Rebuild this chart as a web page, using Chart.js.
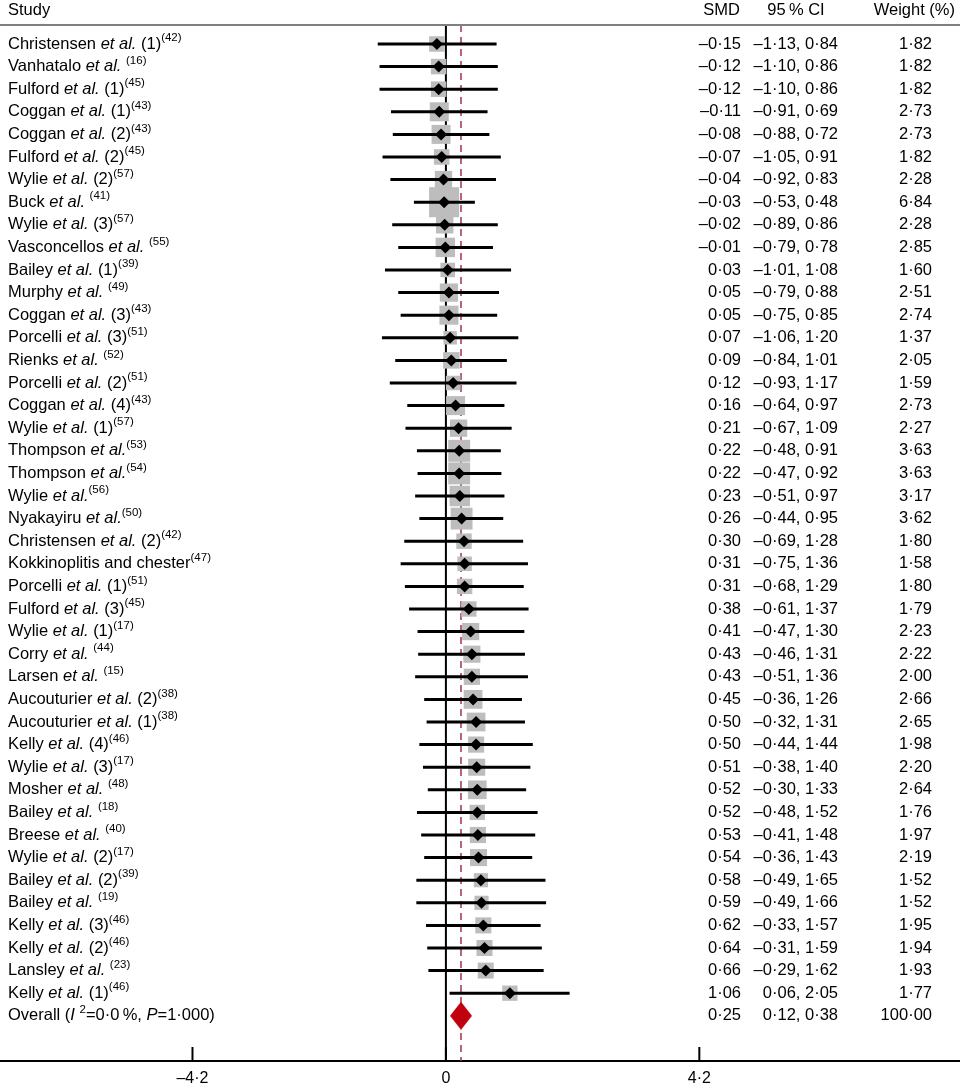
<!DOCTYPE html>
<html>
<head>
<meta charset="utf-8">
<script src="https://cdn.jsdelivr.net/npm/chart.js"></script>
<style>
body { margin: 0; background: #fff; }
#wrap { position: relative; width: 960px; height: 1086px; }
</style>
</head>
<body>
<div id="wrap"><canvas id="forestChart"></canvas></div>
<script>
// study labels: |...| = italic, ^...^ = superscript
var studies = [
    'Christensen |et al.| (1)^(42)^', 'Vanhatalo |et al.| ^(16)^', 'Fulford |et al.| (1)^(45)^',
    'Coggan |et al.| (1)^(43)^', 'Coggan |et al.| (2)^(43)^', 'Fulford |et al.| (2)^(45)^',
    'Wylie |et al.| (2)^(57)^', 'Buck |et al.| ^(41)^', 'Wylie |et al.| (3)^(57)^',
    'Vasconcellos |et al.| ^(55)^', 'Bailey |et al.| (1)^(39)^', 'Murphy |et al.| ^(49)^',
    'Coggan |et al.| (3)^(43)^', 'Porcelli |et al.| (3)^(51)^', 'Rienks |et al.| ^(52)^',
    'Porcelli |et al.| (2)^(51)^', 'Coggan |et al.| (4)^(43)^', 'Wylie |et al.| (1)^(57)^',
    'Thompson |et al.|^(53)^', 'Thompson |et al.|^(54)^', 'Wylie |et al.|^(56)^',
    'Nyakayiru |et al.|^(50)^', 'Christensen |et al.| (2)^(42)^', 'Kokkinoplitis and chester^(47)^',
    'Porcelli |et al.| (1)^(51)^', 'Fulford |et al.| (3)^(45)^', 'Wylie |et al.| (1)^(17)^',
    'Corry |et al.| ^(44)^', 'Larsen |et al.| ^(15)^', 'Aucouturier |et al.| (2)^(38)^',
    'Aucouturier |et al.| (1)^(38)^', 'Kelly |et al.| (4)^(46)^', 'Wylie |et al.| (3)^(17)^',
    'Mosher |et al.| ^(48)^', 'Bailey |et al.| ^(18)^', 'Breese |et al.| ^(40)^',
    'Wylie |et al.| (2)^(17)^', 'Bailey |et al.| (2)^(39)^', 'Bailey |et al.| ^(19)^',
    'Kelly |et al.| (3)^(46)^', 'Kelly |et al.| (2)^(46)^', 'Lansley |et al.| ^(23)^',
    'Kelly |et al.| (1)^(46)^'
];
var smd = [-0.15, -0.12, -0.12, -0.11, -0.08, -0.07, -0.04, -0.03, -0.02, -0.01,
    0.03, 0.05, 0.05, 0.07, 0.09, 0.12, 0.16, 0.21, 0.22, 0.22,
    0.23, 0.26, 0.30, 0.31, 0.31, 0.38, 0.41, 0.43, 0.43, 0.45,
    0.50, 0.50, 0.51, 0.52, 0.52, 0.53, 0.54, 0.58, 0.59, 0.62,
    0.64, 0.66, 1.06];
var ciLow = [-1.13, -1.10, -1.10, -0.91, -0.88, -1.05, -0.92, -0.53, -0.89, -0.79,
    -1.01, -0.79, -0.75, -1.06, -0.84, -0.93, -0.64, -0.67, -0.48, -0.47,
    -0.51, -0.44, -0.69, -0.75, -0.68, -0.61, -0.47, -0.46, -0.51, -0.36,
    -0.32, -0.44, -0.38, -0.30, -0.48, -0.41, -0.36, -0.49, -0.49, -0.33,
    -0.31, -0.29, 0.06];
var ciHigh = [0.84, 0.86, 0.86, 0.69, 0.72, 0.91, 0.83, 0.48, 0.86, 0.78,
    1.08, 0.88, 0.85, 1.20, 1.01, 1.17, 0.97, 1.09, 0.91, 0.92,
    0.97, 0.95, 1.28, 1.36, 1.29, 1.37, 1.30, 1.31, 1.36, 1.26,
    1.31, 1.44, 1.40, 1.33, 1.52, 1.48, 1.43, 1.65, 1.66, 1.57,
    1.59, 1.62, 2.05];
var weights = [1.82, 1.82, 1.82, 2.73, 2.73, 1.82, 2.28, 6.84, 2.28, 2.85,
    1.60, 2.51, 2.74, 1.37, 2.05, 1.59, 2.73, 2.27, 3.63, 3.63,
    3.17, 3.62, 1.80, 1.58, 1.80, 1.79, 2.23, 2.22, 2.00, 2.66,
    2.65, 1.98, 2.20, 2.64, 1.76, 1.97, 2.19, 1.52, 1.52, 1.95,
    1.94, 1.93, 1.77];

var overallLabel = 'Overall (|I| ^2^=0·0\u2009%, |P|=1·000)';
var overall = [0.25, 0.12, 0.38, 100.00]; // smd, low, high, weight
var xTicks = [-4.2, 0, 4.2];

var FONT = '"Liberation Sans", Arial, sans-serif';
var overallRow = studies.length;

function fmt(v, d) {
    var s = Math.abs(v).toFixed(d).replace('.', '·');
    return v < 0 ? '–' + s : s;
}

function drawRich(ctx, str, x, y) {
    var italic = false, sup = false, cx = x;
    str.split(/([|^])/).forEach(function (tok) {
        if (tok === '|') { italic = !italic; return; }
        if (tok === '^') { sup = !sup; return; }
        if (!tok) return;
        ctx.font = (italic ? 'italic ' : '') + (sup ? '11.5px ' : '16.5px ') + FONT;
        ctx.fillText(tok, cx, sup ? y - 6 : y);
        cx += ctx.measureText(tok).width;
    });
}

// red diamond for the pooled estimate
var diamond = document.createElement('canvas');
diamond.width = 22; diamond.height = 28;
var dctx = diamond.getContext('2d');
dctx.fillStyle = '#c0000e';
dctx.beginPath();
dctx.moveTo(0, 14); dctx.lineTo(11, 0); dctx.lineTo(22, 14); dctx.lineTo(11, 28);
dctx.closePath(); dctx.fill();

var forestPlugin = {
    id: 'forest',
    beforeDatasetsDraw: function (chart) {
        var ctx = chart.ctx, a = chart.chartArea, xs = chart.scales.x;
        ctx.save();
        // line of no effect
        var x0 = xs.getPixelForValue(0);
        ctx.strokeStyle = '#000'; ctx.lineWidth = 2;
        ctx.beginPath(); ctx.moveTo(x0, a.top); ctx.lineTo(x0, a.bottom); ctx.stroke();
        // pooled estimate
        var xo = xs.getPixelForValue(overall[0]);
        ctx.strokeStyle = '#a3324f'; ctx.lineWidth = 1.5; ctx.setLineDash([7, 5]);
        ctx.beginPath(); ctx.moveTo(xo, a.top); ctx.lineTo(xo, a.bottom); ctx.stroke();
        ctx.setLineDash([]);
        // tick marks pointing up
        ctx.strokeStyle = '#000'; ctx.lineWidth = 2;
        xTicks.forEach(function (v) {
            var x = xs.getPixelForValue(v);
            ctx.beginPath(); ctx.moveTo(x, a.bottom - 14); ctx.lineTo(x, a.bottom); ctx.stroke();
        });
        ctx.restore();
    },
    afterDraw: function (chart) {
        var ctx = chart.ctx, a = chart.chartArea, ys = chart.scales.y;
        ctx.save();
        // header
        ctx.strokeStyle = '#808080'; ctx.lineWidth = 2;
        ctx.beginPath(); ctx.moveTo(0, a.top); ctx.lineTo(chart.width, a.top); ctx.stroke();
        ctx.fillStyle = '#000'; ctx.textBaseline = 'middle';
        ctx.font = '16.5px ' + FONT;
        ctx.textAlign = 'left'; ctx.fillText('Study', 8, 10);
        ctx.textAlign = 'right'; ctx.fillText('SMD', 740, 10);
        ctx.textAlign = 'center'; ctx.fillText('95\u2009% CI', 796, 10);
        ctx.textAlign = 'right'; ctx.fillText('Weight (%)', 955, 10);
        // rows
        var rows = studies.map(function (s, i) {
            return [s, smd[i], ciLow[i], ciHigh[i], weights[i]];
        });
        rows.push([overallLabel, overall[0], overall[1], overall[2], overall[3]]);
        rows.forEach(function (r, i) {
            var y = ys.getPixelForValue(i);
            ctx.textAlign = 'left';
            drawRich(ctx, r[0], 8, y);
            ctx.font = '16.5px ' + FONT;
            ctx.textAlign = 'right';
            ctx.fillText(fmt(r[1], 2), 741, y);
            ctx.fillText(fmt(r[2], 2) + ', ' + fmt(r[3], 2), 838, y);
            ctx.fillText(fmt(r[4], 2), 932, y);
        });
        ctx.restore();
    }
};

var datasets = [];
datasets.push({
    label: 'SMD',
    data: smd.map(function (v, i) { return { x: v, y: i }; }),
    pointStyle: 'rectRot', pointRadius: 6, backgroundColor: '#000', borderWidth: 0, order: 0
});
datasets.push({
    label: 'Overall',
    data: [{ x: overall[0], y: overallRow }],
    pointStyle: diamond, pointRadius: 11, order: 0
});
smd.forEach(function (v, i) {
    datasets.push({
        type: 'line', label: 'CI ' + i,
        data: [{ x: ciLow[i], y: i }, { x: ciHigh[i], y: i }],
        borderColor: '#000', borderWidth: 3, pointRadius: 0, order: 1
    });
});
datasets.push({
    label: 'Weight',
    data: smd.map(function (v, i) { return { x: v, y: i }; }),
    pointStyle: 'rect',
    pointRadius: function (c) { return 11.5 * Math.sqrt(weights[c.dataIndex]) / Math.SQRT2; },
    backgroundColor: '#bdbdbd', borderWidth: 0, order: 2
});

new Chart(document.getElementById('forestChart'), {
    type: 'scatter',
    data: { datasets: datasets },
    options: {
        responsive: true,
        maintainAspectRatio: false,
        animation: false,
        events: [],
        layout: { autoPadding: false, padding: { top: 25, left: 0, right: 0, bottom: 0 } },
        plugins: { legend: { display: false }, tooltip: { enabled: false } },
        scales: {
            x: {
                type: 'linear', min: -7.39, max: 8.52,
                afterBuildTicks: function (s) { s.ticks = xTicks.map(function (v) { return { value: v }; }); },
                afterFit: function (s) { s.height = 25; },
                grid: { display: false, drawTicks: false },
                border: { display: true, color: '#000', width: 2 },
                ticks: {
                    padding: 8, color: '#000', maxRotation: 0,
                    font: { family: FONT, size: 16 },
                    callback: function (v) { return v === 0 ? '0' : fmt(v, 1); }
                }
            },
            y: {
                type: 'linear', reverse: true, min: -0.84, max: 45.0,
                display: false
            }
        }
    },
    plugins: [forestPlugin]
});
</script>
</body>
</html>
